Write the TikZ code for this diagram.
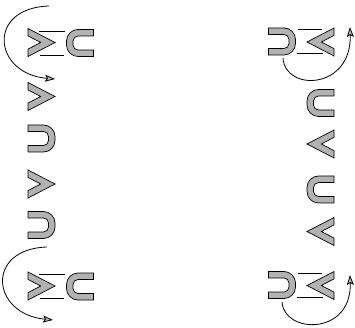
\documentclass[tikz,border=0pt]{standalone}
\usetikzlibrary{arrows.meta}
\newcommand\mychev[2]{\path[glyph,shift={(#1,#2)}] (-13.5,-14) -- (13.5,0) -- (-13.5,14) -- (-13.5,6.6) -- (-0.8,0) -- (-13.5,-6.6) -- cycle;}
\newcommand\mycup[3]{\path[glyph,shift={(#1,#2)},rotate=#3] (-13.5,-13.5) -- (2,-13.5) arc(-90:0:11.5) -- (13.5,2) arc(0:90:11.5) -- (-13.5,13.5) -- (-13.5,7) -- (2,7) arc(90:0:5) -- (7,-2) arc(0:-90:5) -- (-13.5,-7) -- cycle;}
\newcommand\mygroup[2]{\begin{scope}[shift={(#1,#2)}]
  \mychev{0}{0}\mycup{38.5}{0.5}{180}
  \draw[bar] (-2.5,-11.5) -- (23.5,-11.5); \draw[bar] (-1.5,12.5) -- (22.5,12.5);
  \end{scope}}
\begin{document}
\begin{tikzpicture}[x=1pt,y=-1pt,
  glyph/.style={draw=black,line width=0.7pt,fill=gray!60,line join=miter},
  bar/.style={draw=black,line width=0.8pt},
  turn/.style={draw=black,line width=0.8pt,-{Stealth[length=10pt,width=7pt,inset=2pt,fill=gray!50]}}
]
\useasboundingbox (0,0) rectangle (355,328);
\foreach \r in {0,180}{
  \begin{scope}[rotate around={\r:(181,164)}]
    \mygroup{41.5}{42.5}
    \mychev{41.5}{96.5}
    \mycup{41.5}{138.5}{0}
    \mychev{41.5}{184}
    \mycup{41.5}{225}{0}
    \mygroup{41.5}{286}
  \end{scope}
}
\coordinate (a1s) at (49,6);   \coordinate (a1e) at (55,79);
\coordinate (a2s) at (47,247); \coordinate (a2e) at (53,320);
\coordinate (a3s) at (283,58); \coordinate (a3e) at (350,27);
\coordinate (a4s) at (282,302);\coordinate (a4e) at (350,275);
\draw[turn] (a1s) .. controls (-14,8) and (-7,74) .. (a1e);
\draw[turn] (a2s) .. controls (-15,249) and (-9,314) .. (a2e);
\draw[turn] (a3s) .. controls (285,92) and (352,90) .. (a3e);
\draw[turn] (a4s) .. controls (284,334) and (352,336) .. (a4e);
\end{tikzpicture}
\end{document}
